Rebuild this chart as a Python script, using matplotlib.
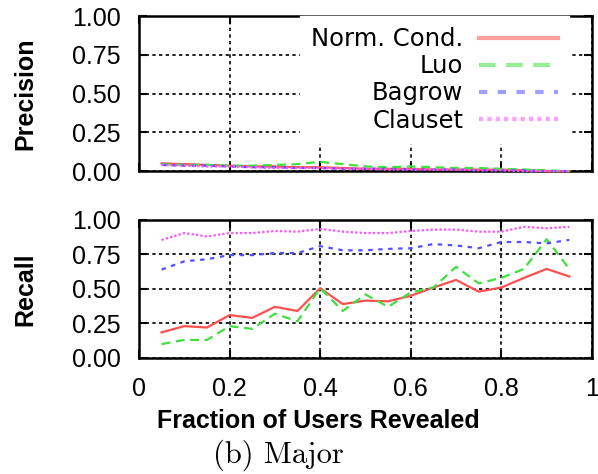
import matplotlib
matplotlib.use("Agg")
import matplotlib.pyplot as plt

plt.rcParams['font.family'] = ['Liberation Sans', 'DejaVu Sans']

frac = [0.05, 0.10, 0.15, 0.20, 0.25, 0.30, 0.35, 0.40, 0.45, 0.50,
        0.55, 0.60, 0.65, 0.70, 0.75, 0.80, 0.85, 0.90, 0.95]

methods = ['Norm. Cond.', 'Luo', 'Bagrow', 'Clauset']

prec_nc = [0.050, 0.045, 0.040, 0.035, 0.030, 0.030, 0.025, 0.025, 0.020, 0.015,
           0.015, 0.015, 0.010, 0.010, 0.010, 0.010, 0.005, 0.000, 0.000]
prec_luo = [0.045, 0.040, 0.040, 0.035, 0.035, 0.040, 0.045, 0.060, 0.045, 0.030,
            0.025, 0.030, 0.025, 0.020, 0.020, 0.015, 0.010, 0.005, 0.000]
prec_bagrow = [0.040, 0.035, 0.035, 0.030, 0.025, 0.025, 0.020, 0.020, 0.015, 0.015,
               0.015, 0.010, 0.010, 0.010, 0.005, 0.005, 0.005, 0.000, 0.000]
prec_clauset = [0.040, 0.035, 0.030, 0.030, 0.025, 0.020, 0.020, 0.020, 0.015, 0.015,
                0.010, 0.010, 0.010, 0.010, 0.005, 0.005, 0.000, 0.000, 0.000]

rec_nc = [0.185, 0.23, 0.22, 0.31, 0.29, 0.37, 0.34, 0.505, 0.39, 0.415,
          0.41, 0.45, 0.51, 0.565, 0.48, 0.51, 0.58, 0.645, 0.59]
rec_luo = [0.10, 0.13, 0.13, 0.23, 0.21, 0.32, 0.265, 0.505, 0.34, 0.46,
           0.37, 0.475, 0.51, 0.66, 0.54, 0.58, 0.645, 0.86, 0.645]
rec_bagrow = [0.64, 0.70, 0.715, 0.745, 0.745, 0.76, 0.76, 0.81, 0.78, 0.78,
              0.79, 0.795, 0.825, 0.815, 0.795, 0.84, 0.84, 0.83, 0.855]
rec_clauset = [0.855, 0.905, 0.88, 0.905, 0.905, 0.92, 0.915, 0.935, 0.915, 0.905,
               0.905, 0.92, 0.93, 0.93, 0.915, 0.915, 0.95, 0.94, 0.95]

colors = ['#ff5050', '#40e040', '#5050ff', '#ff50ff']
styles = ['-', (0, (4, 2.5)), (0, (2, 2.5)), (0, (1, 1))]

tick_fs = 18
label_fs = 18

fig = plt.figure(figsize=(5.98, 4.74), dpi=100)
ax_p = fig.add_axes([0.2324, 0.639, 0.7575, 0.327])
ax_r = fig.add_axes([0.2324, 0.245, 0.7575, 0.291])


def style_axis(ax, ylabel, show_x):
  ax.set_xlim(0, 1)
  ax.set_ylim(0, 1)
  ax.set_xticks([0, 0.2, 0.4, 0.6, 0.8, 1.0])
  ax.set_yticks([0, 0.25, 0.5, 0.75, 1.0])
  ax.set_yticklabels(['0.00', '0.25', '0.50', '0.75', '1.00'], fontsize=tick_fs)
  if show_x:
    ax.set_xticklabels(['0', '0.2', '0.4', '0.6', '0.8', '1'], fontsize=tick_fs)
  else:
    ax.set_xticklabels([])
  ax.tick_params(direction='in', length=6, width=1.5, top=True, right=True)
  ax.tick_params(axis='y', pad=13)
  ax.tick_params(axis='x', pad=14)
  for s in ax.spines.values():
    s.set_linewidth(1.8)
  ax.grid(True, color='black', linestyle=(0, (2, 2)), linewidth=1.2)
  ax.set_axisbelow(True)
  ax.set_ylabel(ylabel, fontsize=label_fs, fontweight='bold')
  ax.yaxis.set_label_coords(-0.225, 0.5)


style_axis(ax_p, 'Precision', False)
style_axis(ax_r, 'Recall', True)

prec = [prec_nc, prec_luo, prec_bagrow, prec_clauset]
rec = [rec_nc, rec_luo, rec_bagrow, rec_clauset]
for name, p, r, c, ls in zip(methods, prec, rec, colors, styles):
  ax_p.plot(frac, p, color=c, linestyle=ls, linewidth=1.6, label=name,
            clip_on=False, zorder=3)
  ax_r.plot(frac, r, color=c, linestyle=ls, linewidth=1.6, zorder=3)

leg = ax_p.legend(loc='upper right', bbox_to_anchor=(0.949, 1.0),
                  prop={'family': 'DejaVu Sans', 'size': 17.5},
                  markerfirst=False, frameon=True,
                  handlelength=3.25, handletextpad=0.65, labelspacing=0.13,
                  borderpad=0.45, borderaxespad=0.0)
leg.get_frame().set_facecolor('white')
leg.get_frame().set_edgecolor('white')
leg.get_frame().set_alpha(1.0)
leg.get_frame().set_boxstyle('square', pad=0)
leg.set_zorder(2.5)
for col in leg._legend_handle_box.get_children():
  col.align = 'right'
for h in leg.get_lines():
  h.set_linewidth(3)
  h.set_alpha(0.55)

ax_r.set_xlabel('Fraction of Users Revealed', fontsize=label_fs, fontweight='bold')
ax_r.xaxis.set_label_coords(0.395, -0.37)

fig.text(0.465, 0.04, '(b) Major', fontsize=22, family='cmr10',
         ha='center', va='center')

fig.savefig('out.png', dpi=100)
